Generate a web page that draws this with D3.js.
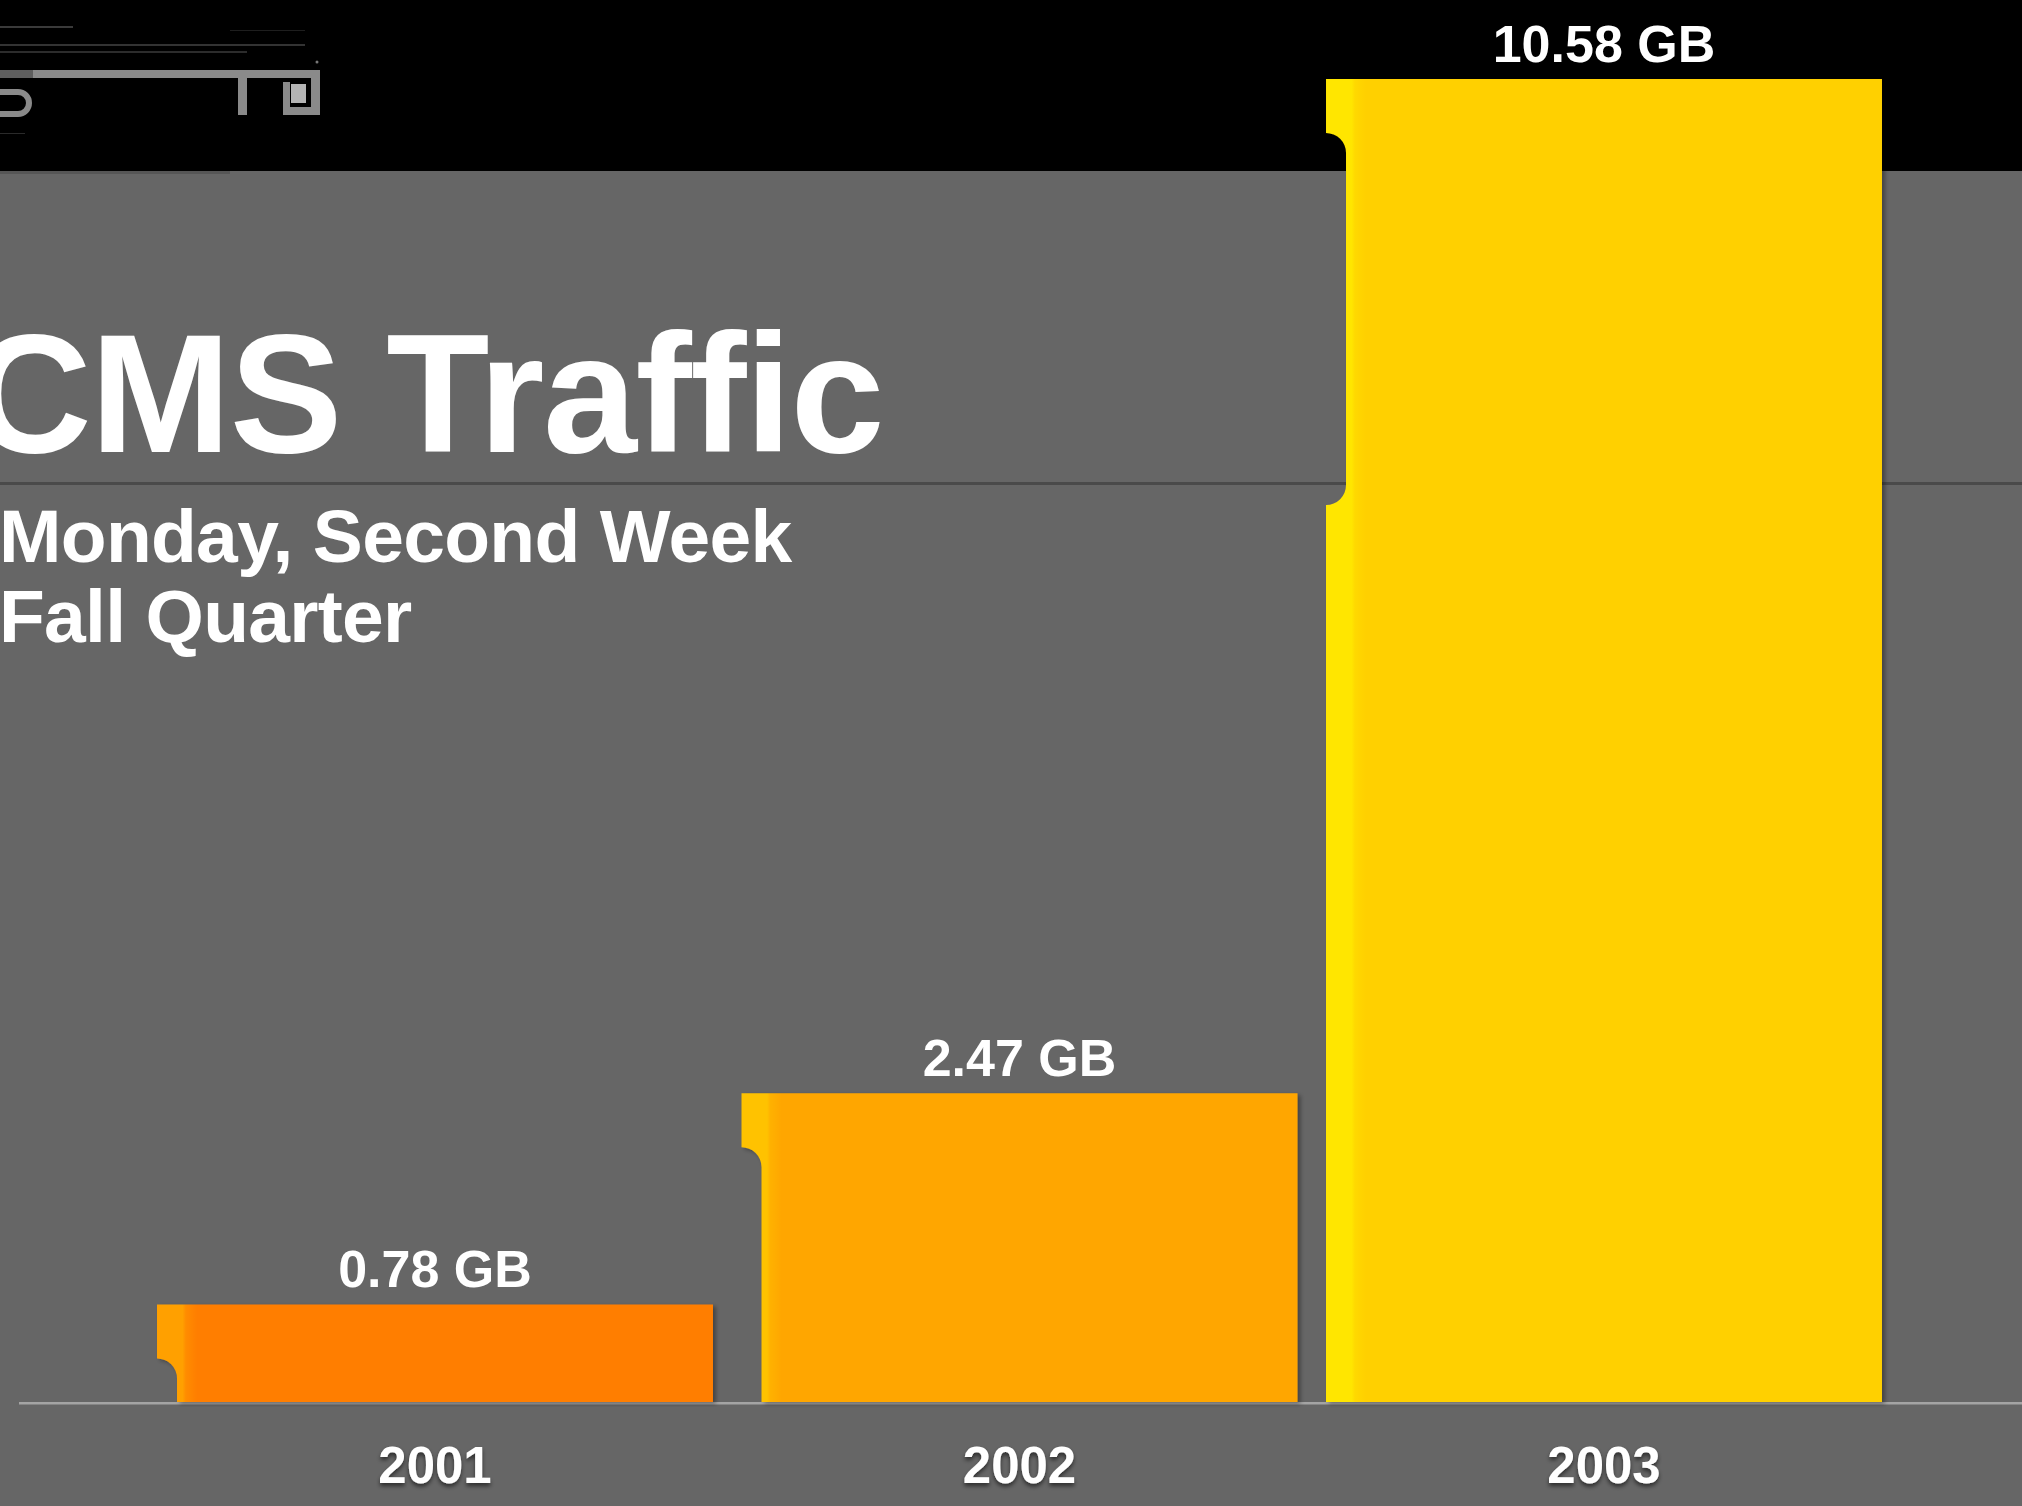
<!DOCTYPE html>
<html>
<head>
<meta charset="utf-8">
<script src="https://cdn.jsdelivr.net/npm/d3@7"></script>
<style>
  html, body { margin: 0; padding: 0; background: #666666; overflow: hidden; }
  svg { display: block; }
</style>
</head>
<body>
<div id="cms_traffic"></div>
<script>
// bar chart for the CMS traffic slide

// data
const years = ["2001", "2002", "2003"];
const trafficGB = [0.78, 2.47, 10.58];
const titleText = "CMS Traffic";
const subtitleLines = ["Monday, Second Week", "Fall Quarter"];

// palette: light strip on the left of each bar, then the main fill
const stripColors = ["#ffa000", "#ffc200", "#ffe600"];
const mainColors = ["#ff7e00", "#ffa600", "#ffd000"];

const w = 2022;
const h = 1506;
const baseY = 1402;     // baseline of the bars
const topY = 79;        // top of the tallest bar
const bandH = 171;      // black band on top
const fontFamily = "'Liberation Sans', Arial, Helvetica, sans-serif";

// notch on the left side of every bar
const notchOffset = 54;
const notchLen = 372;
const notchW = 20;

const data = years.map((y, i) => ({ year: y, value: trafficGB[i], i: i }));

// scales
const x = d3.scaleBand()
	.domain(years)
	.range([142.75, 1896.25])
	.paddingInner(0.0488)
	.paddingOuter(0.0244);

const y = d3.scaleLinear()
	.domain([0, d3.max(trafficGB)])
	.range([baseY, topY]);

// create a SVG element
const svg = d3.select("#cms_traffic")
	.append("svg")
	.attr("width", w)
	.attr("height", h);

const defs = svg.append("defs");

// horizontal gradients for the bars
data.forEach(d => {
	const g = defs.append("linearGradient")
		.attr("id", "barGrad" + d.i)
		.attr("x1", 0).attr("x2", 1).attr("y1", 0).attr("y2", 0);
	[[0, stripColors[d.i]], [0.046, stripColors[d.i]], [0.052, d3.interpolateRgb(stripColors[d.i], mainColors[d.i])(0.6)],
	 [0.062, d3.interpolateRgb(stripColors[d.i], mainColors[d.i])(0.8)], [0.072, mainColors[d.i]], [1, mainColors[d.i]]]
		.forEach(s => g.append("stop").attr("offset", s[0]).attr("stop-color", s[1]));
});

// shadows
const barShadow = defs.append("filter").attr("id", "barShadow")
	.attr("x", "-5%").attr("y", "-5%").attr("width", "110%").attr("height", "110%");
barShadow.append("feDropShadow")
	.attr("dx", 3).attr("dy", 2).attr("stdDeviation", 2)
	.attr("flood-color", "#000").attr("flood-opacity", 0.35);

const textShadow = defs.append("filter").attr("id", "textShadow")
	.attr("x", "-10%").attr("y", "-20%").attr("width", "120%").attr("height", "150%");
textShadow.append("feDropShadow")
	.attr("dx", 0).attr("dy", 3).attr("stdDeviation", 2)
	.attr("flood-color", "#000").attr("flood-opacity", 0.55);

// background
svg.append("rect")
	.attr("width", w).attr("height", h)
	.attr("fill", "#666666");

svg.append("rect")
	.attr("width", w).attr("height", bandH)
	.attr("fill", "#000000");

svg.append("rect")
	.attr("y", bandH).attr("width", 230).attr("height", 3)
	.attr("fill", "#565656");

// logo in the top left corner (partly cut off)
const logo = svg.append("g").attr("class", "logo");

// tiny unreadable lines of text
[[0, 26, 73, 2, "#3a3a3a"], [230, 30, 75, 1, "#1e1e1e"], [0, 44, 305, 2, "#333"], [0, 51, 247, 2, "#2c2c2c"], [0, 133, 25, 1, "#2a2a2a"]]
	.forEach(r => logo.append("rect")
		.attr("x", r[0]).attr("y", r[1]).attr("width", r[2]).attr("height", r[3])
		.attr("fill", r[4]));

logo.append("rect").attr("x", 0).attr("y", 70).attr("width", 33).attr("height", 8).attr("fill", "#5e5e5e");
logo.append("rect").attr("x", 33).attr("y", 70).attr("width", 210).attr("height", 8).attr("fill", "#8a8a8a");

// bottom of the "S"
logo.append("path")
	.attr("d", "M0,92 L18,92 A11,11 0 0 1 18,114 L0,114")
	.attr("fill", "none")
	.attr("stroke", "#8a8a8a")
	.attr("stroke-width", 6);

// "T" and "D" shapes
[[233, 70, 30, 8], [238, 70, 9, 45], [263, 70, 57, 8], [311, 70, 9, 45], [283, 107, 37, 8], [283, 82, 7, 33]]
	.forEach(r => logo.append("rect")
		.attr("x", r[0]).attr("y", r[1]).attr("width", r[2]).attr("height", r[3])
		.attr("fill", "#8a8a8a"));
logo.append("rect").attr("x", 291).attr("y", 84).attr("width", 15).attr("height", 19).attr("fill", "#b4b4b4");
logo.append("circle").attr("cx", 317).attr("cy", 62).attr("r", 1.5).attr("fill", "#777");

// guide lines
svg.append("rect")
	.attr("x", 0).attr("y", 482)
	.attr("width", w).attr("height", 3)
	.attr("fill", "#4a4a4a");

svg.append("rect")
	.attr("x", 19).attr("y", baseY)
	.attr("width", w - 19).attr("height", 2.5)
	.attr("fill", "#a4a4a4");

// title and subtitle (the title runs off the left edge, as on the slide)
svg.append("text")
	.attr("x", 883)
	.attr("y", 452)
	.attr("text-anchor", "end")
	.style("font-family", fontFamily)
	.style("font-weight", "bold")
	.style("font-size", "169px")
	.style("letter-spacing", "-1.5px")
	.style("fill", "#ffffff")
	.text(titleText);

svg.append("g")
	.selectAll("text")
	.data(subtitleLines)
	.join("text")
		.attr("x", -1)
		.attr("y", (d, i) => 562 + i * 80)
		.style("font-family", fontFamily)
		.style("font-weight", "bold")
		.style("font-size", "75px")
		.style("letter-spacing", "-0.7px")
		.style("fill", "#ffffff")
		.text(d => d);

// bar outline with the notch cut out of the left side
function barPath(d) {
	const x0 = x(d.year);
	const x1 = x0 + x.bandwidth();
	const top = y(d.value);
	const nt = top + notchOffset;
	const nb = nt + notchLen;
	const p = d3.path();
	p.moveTo(x0, top);
	p.lineTo(x1, top);
	p.lineTo(x1, baseY);
	if (nb >= baseY) {
		p.lineTo(x0 + notchW, baseY);
	} else {
		p.lineTo(x0, baseY);
		p.lineTo(x0, nb);
		p.arcTo(x0 + notchW, nb, x0 + notchW, nb - notchW, notchW);
	}
	p.lineTo(x0 + notchW, nt + notchW);
	p.arcTo(x0 + notchW, nt, x0, nt, notchW);
	p.closePath();
	return p.toString();
}

// create bars
svg.append("g")
	.selectAll("path")
	.data(data)
	.join("path")
		.attr("class", "trafficBar")
		.attr("d", barPath)
		.attr("fill", d => `url(#barGrad${d.i})`)
		.attr("filter", "url(#barShadow)");

// value labels above the bars
svg.append("g")
	.selectAll("text")
	.data(data)
	.join("text")
		.attr("x", d => x(d.year) + x.bandwidth() / 2)
		.attr("y", d => y(d.value) - 17)
		.attr("text-anchor", "middle")
		.style("font-family", fontFamily)
		.style("font-weight", "bold")
		.style("font-size", "52px")
		.style("fill", "#ffffff")
		.text(d => d3.format(".2f")(d.value) + " GB");

// year labels under the baseline
svg.append("g")
	.selectAll("text")
	.data(data)
	.join("text")
		.attr("x", d => x(d.year) + x.bandwidth() / 2)
		.attr("y", 1483)
		.attr("text-anchor", "middle")
		.attr("filter", "url(#textShadow)")
		.style("font-family", fontFamily)
		.style("font-weight", "bold")
		.style("font-size", "51px")
		.style("fill", "#ffffff")
		.text(d => d.year);
</script>
</body>
</html>
